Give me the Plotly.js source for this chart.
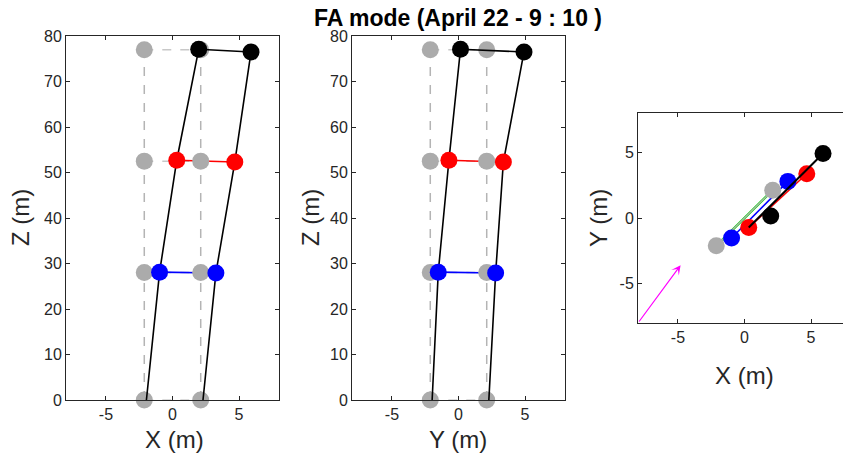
<!DOCTYPE html>
<html><head><meta charset="utf-8">
<script src="https://cdn.plot.ly/plotly-3.0.1.min.js"></script>
<style>html,body{margin:0;padding:0;overflow:hidden;background:#fff}</style>
</head><body><div id="plot" style="width:843px;height:462px"></div>
<script>
// ---- data ----
const greyX = [-2.12, 2.12];          // undisplaced leg positions (X)
const greyY = [-2.12, 2.12];          // undisplaced leg positions (Y)
const greyZ = [0, 28, 52.5, 77];      // node heights
const legBaseX = [-1.96, 2.29];
const legBaseY = [-1.98, 2.28];
// displaced nodes: [leg1, leg2]
const blueX = [-0.97, 3.26], blueY = [-1.52, 2.79], blueZ = [28.1, 27.9];
const redX = [0.32, 4.68],   redY = [-0.72, 3.37], redZ = [52.7, 52.3];
const blackX = [1.97, 5.9],  blackY = [0.15, 4.92], blackZ = [77.1, 76.5];
const arrowFrom = [-8, -8], arrowTo = [-4.8, -3.6];
const ticksXY = [-5, 0, 5];
const ticksXYText = ['-5', '0', '5'];
const ticksZ = [0, 10, 20, 30, 40, 50, 60, 70, 80];

const GREY = '#ababab', DASH = '#b4b4b4';
const MS = 17;
const traces = [];

function elev(hor, greyH, baseH, xa, ya) {
  for (let i = 0; i < 2; i++) {
    traces.push({x: [greyH[i], greyH[i]], y: [greyZ[0], greyZ[3]], mode: 'lines',
      line: {color: DASH, width: 1.5, dash: 'dash'}, xaxis: xa, yaxis: ya, hoverinfo: 'skip'});
  }
  for (let k = 0; k < greyZ.length; k++) {
    traces.push({x: [greyH[0], greyH[1]], y: [greyZ[k], greyZ[k]], mode: 'lines',
      line: {color: k === 0 ? '#d0d0d0' : '#c8c8c8', width: 1.5, dash: 'dash'}, xaxis: xa, yaxis: ya, hoverinfo: 'skip'});
  }
  traces.push({x: hor.blue, y: blueZ, mode: 'lines', line: {color: '#0000ff', width: 1.6}, xaxis: xa, yaxis: ya});
  traces.push({x: hor.red, y: redZ, mode: 'lines', line: {color: '#ff0000', width: 1.6}, xaxis: xa, yaxis: ya});
  const gx = [], gz = [];
  for (let k = 0; k < greyZ.length; k++) for (let i = 0; i < 2; i++) { gx.push(greyH[i]); gz.push(greyZ[k]); }
  traces.push({x: gx, y: gz, mode: 'markers', marker: {color: GREY, size: MS}, cliponaxis: false, xaxis: xa, yaxis: ya});
  for (let i = 0; i < 2; i++) {
    traces.push({x: [baseH[i], hor.blue[i], hor.red[i], hor.black[i]], y: [0, blueZ[i], redZ[i], blackZ[i]],
      mode: 'lines', line: {color: '#000', width: 1.6}, cliponaxis: false, xaxis: xa, yaxis: ya});
  }
  traces.push({x: hor.black, y: blackZ, mode: 'lines', line: {color: '#000', width: 1.6}, xaxis: xa, yaxis: ya});
  traces.push({x: hor.blue, y: blueZ, mode: 'markers', marker: {color: '#0000ff', size: MS}, cliponaxis: false, xaxis: xa, yaxis: ya});
  traces.push({x: hor.red, y: redZ, mode: 'markers', marker: {color: '#ff0000', size: MS}, cliponaxis: false, xaxis: xa, yaxis: ya});
  traces.push({x: hor.black, y: blackZ, mode: 'markers', marker: {color: '#000', size: MS}, cliponaxis: false, xaxis: xa, yaxis: ya});
}
elev({blue: blueX, red: redX, black: blackX}, greyX, legBaseX, 'x', 'y');
elev({blue: blueY, red: redY, black: blackY}, greyY, legBaseY, 'x2', 'y2');

// plan view
traces.push({x: greyX, y: greyY, mode: 'lines', line: {color: '#00dd00', width: 2.5}, xaxis: 'x3', yaxis: 'y3'});
traces.push({x: greyX, y: greyY, mode: 'lines', line: {color: '#b0b0b0', width: 1.5}, xaxis: 'x3', yaxis: 'y3'});
traces.push({x: blueX, y: blueY, mode: 'lines', line: {color: '#0000ff', width: 1.6}, xaxis: 'x3', yaxis: 'y3'});
traces.push({x: redX, y: redY, mode: 'lines', line: {color: '#ff0000', width: 1.6}, xaxis: 'x3', yaxis: 'y3'});
traces.push({x: greyX, y: greyY, mode: 'markers', marker: {color: GREY, size: MS}, cliponaxis: false, xaxis: 'x3', yaxis: 'y3'});
traces.push({x: blueX, y: blueY, mode: 'markers', marker: {color: '#0000ff', size: MS}, cliponaxis: false, xaxis: 'x3', yaxis: 'y3'});
traces.push({x: redX, y: redY, mode: 'markers', marker: {color: '#ff0000', size: MS}, cliponaxis: false, xaxis: 'x3', yaxis: 'y3'});
traces.push({x: blackX, y: blackY, mode: 'markers', marker: {color: '#000', size: MS}, cliponaxis: false, xaxis: 'x3', yaxis: 'y3'});
traces.push({x: [redX[0], blackX[1]], y: [redY[0], blackY[1]], mode: 'lines', line: {color: '#000', width: 2}, xaxis: 'x3', yaxis: 'y3'});

const AX = '#262626';
const FONT = 'Liberation Sans, Arial, Helvetica, sans-serif';
function ax(extra) {
  return Object.assign({showline: true, linecolor: AX, linewidth: 1, mirror: 'ticks', ticks: 'inside',
    ticklen: 4, tickcolor: AX, showgrid: false, zeroline: false, fixedrange: true,
    tickfont: {family: FONT, size: 16, color: AX}}, extra);
}
const H = 462, W = 843;
const py = v => 1 - v / H, px = v => v / W;
function lab(text, x, y, rot) {
  return {text: text, x: px(x), y: py(y), xref: 'paper', yref: 'paper', xanchor: 'center', yanchor: 'middle',
    showarrow: false, textangle: rot || 0, font: {size: 24, family: FONT, color: AX}};
}
const layout = {
  width: W, height: H, margin: {l: 0, r: 0, t: 0, b: 0}, showlegend: false,
  paper_bgcolor: '#fff', plot_bgcolor: '#fff',
  font: {family: FONT, color: AX},
  title: {text: '<b>FA mode (April 22 - 9 : 10 )</b>', font: {family: FONT, size: 23, color: '#000'},
    x: px(458), xref: 'paper', y: py(18), yref: 'container', yanchor: 'middle', xanchor: 'center'},
  xaxis: ax({domain: [px(66), px(279)], range: [-8, 8], tickvals: ticksXY, ticktext: ticksXYText, anchor: 'y'}),
  yaxis: ax({domain: [py(400), py(36)], range: [0, 80], tickvals: ticksZ, anchor: 'x'}),
  xaxis2: ax({domain: [px(352), px(565)], range: [-8, 8], tickvals: ticksXY, ticktext: ticksXYText, anchor: 'y2'}),
  yaxis2: ax({domain: [py(400), py(36)], range: [0, 80], tickvals: ticksZ, anchor: 'x2'}),
  xaxis3: ax({domain: [px(638), 1], range: [-8, 7.4], tickvals: ticksXY, ticktext: ticksXYText, anchor: 'y3'}),
  yaxis3: ax({domain: [py(323), py(113)], range: [-8, 8], tickvals: ticksXY, ticktext: ticksXYText, anchor: 'x3', mirror: false}),
  annotations: [
    lab('X (m)', 174, 439), lab('Z (m)', 20, 218, -90),
    lab('Y (m)', 458, 439), lab('Z (m)', 310, 218, -90),
    lab('X (m)', 744, 375), lab('Y (m)', 598, 218, -90),
    {x: arrowTo[0], y: arrowTo[1], ax: arrowFrom[0], ay: arrowFrom[1], xref: 'x3', yref: 'y3', axref: 'x3', ayref: 'y3',
      showarrow: true, arrowhead: 3, arrowsize: 1.3, arrowwidth: 1.2, arrowcolor: '#ff00ff', text: ''}
  ]
};
Plotly.newPlot('plot', traces, layout, {displayModeBar: false, staticPlot: true});
</script></body></html>
